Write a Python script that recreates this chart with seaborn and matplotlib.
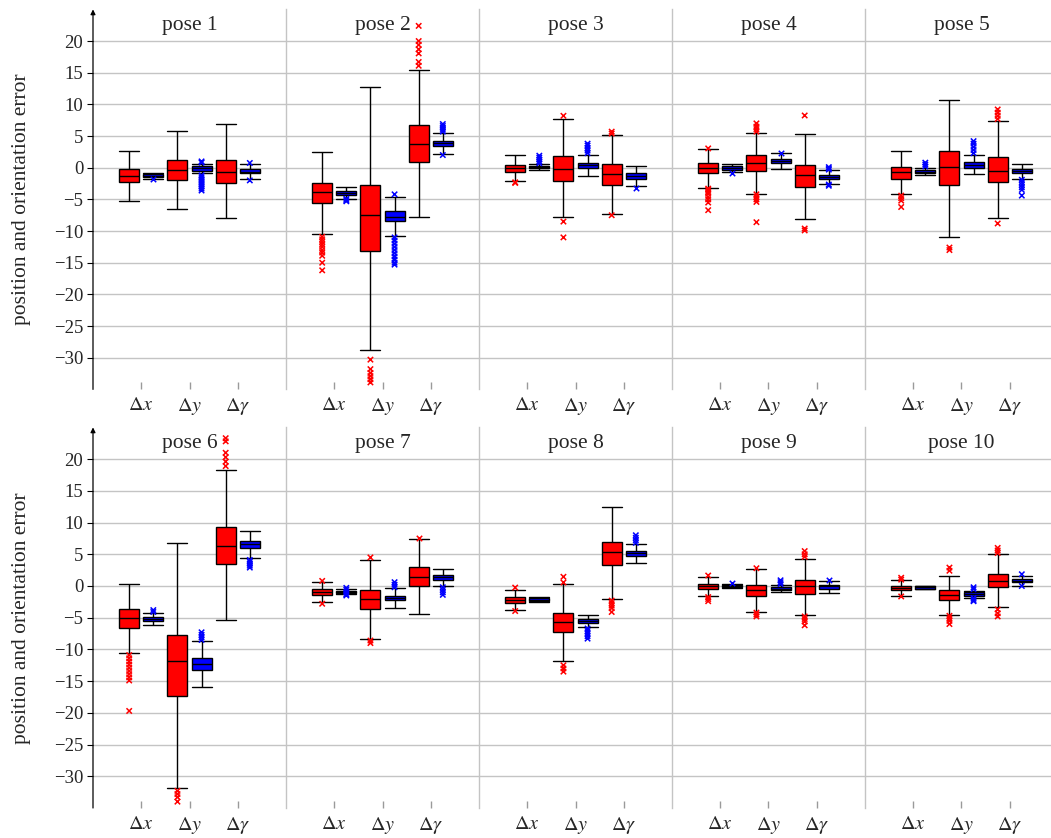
import pandas as pd
import seaborn as sns
import matplotlib.pyplot as plt

# ---------------------------------------------------------------------------
# Box summaries per pose: one tuple per component (Δx, Δy, Δγ),
# each (lower whisker, Q1, median, Q3, upper whisker)
# ---------------------------------------------------------------------------
P1_RED = [(-5.3, -2.3, -1.3, -0.25, 2.7), (-6.5, -1.95, -0.4, 1.15, 5.8), (-8.0, -2.35, -0.6, 1.3, 6.9)]
P1_BLUE = [(-1.7, -1.5, -1.25, -1.0, -0.8), (-0.9, -0.5, -0.1, 0.3, 0.6), (-1.85, -0.9, -0.6, -0.2, 0.55)]
P1_RED_OUT = [[], [], []]
P1_BLUE_OUT = [[-1.8], [1.0, 0.8, -1.2, -1.5, -1.8, -2.1, -2.4, -2.7, -3.0, -3.3, -3.6], [0.75, -2.0]]

P2_RED = [(-10.5, -5.6, -3.9, -2.4, 2.5), (-28.8, -13.15, -7.4, -2.8, 12.8), (-7.75, 0.95, 3.7, 6.8, 15.5)]
P2_BLUE = [(-5.0, -4.25, -3.95, -3.75, -3.0), (-10.75, -8.4, -7.75, -6.85, -4.6), (2.15, 3.45, 3.9, 4.3, 5.55)]
P2_RED_OUT = [[-10.9, -11.3, -11.7, -12.1, -12.5, -13.0, -13.4, -13.9, -15.0, -16.2],
              [-30.3, -31.8, -32.4, -32.9, -33.4, -33.9],
              [16.1, 16.7, 18.05, 18.7, 19.4, 20.0, 22.4]]
P2_BLUE_OUT = [[-4.9, -5.1, -5.3],
               [-4.2, -11.0, -11.5, -12.0, -12.5, -13.0, -13.5, -14.0, -14.5, -15.0, -15.3],
               [5.7, 6.0, 6.3, 6.6, 6.9, 2.0]]

P3_RED = [(-2.15, -0.6, -0.05, 0.4, 1.95), (-7.85, -2.05, -0.15, 1.8, 7.65), (-7.35, -2.65, -1.05, 0.55, 5.2)]
P3_BLUE = [(-0.35, -0.1, 0.15, 0.35, 0.6), (-1.25, 0.0, 0.4, 0.8, 2.0), (-2.95, -1.75, -1.25, -0.9, 0.3)]
P3_RED_OUT = [[-2.3, -2.4], [8.2, -8.5, -11.0], [5.4, 5.7, -7.5]]
P3_BLUE_OUT = [[0.7, 1.0, 1.3, 1.6, 1.9], [2.3, 2.7, 3.1, 3.5, 3.8], [-3.25]]

P4_RED = [(-3.15, -0.9, -0.05, 0.7, 2.95), (-4.1, -0.55, 0.75, 1.95, 5.55), (-8.05, -3.0, -1.15, 0.4, 5.4)]
P4_BLUE = [(-0.75, -0.3, 0.0, 0.25, 0.65), (-0.25, 0.7, 1.0, 1.35, 2.25), (-2.55, -1.8, -1.4, -1.1, -0.4)]
P4_RED_OUT = [[3.05, -3.3, -3.5, -3.8, -4.1, -4.6, -5.0, -5.5, -6.7],
              [5.7, 6.1, 6.5, 7.0, -4.2, -4.6, -5.0, -5.4, -8.6],
              [8.25, -9.6, -9.9]]
P4_BLUE_OUT = [[-0.8], [2.3], [-0.1, 0.1, -0.3, -2.65, -2.85]]

P5_RED = [(-4.2, -1.7, -0.75, 0.05, 2.65), (-10.9, -2.8, 0.1, 2.65, 10.75), (-8.0, -2.2, -0.45, 1.7, 7.4)]
P5_BLUE = [(-1.15, -0.8, -0.6, -0.35, 0.0), (-1.05, 0.0, 0.4, 0.85, 2.0), (-1.7, -0.8, -0.45, -0.15, 0.65)]
P5_RED_OUT = [[-4.4, -4.8, -5.2, -6.2], [-12.6, -13.0], [7.7, 8.2, 8.7, 9.2, -8.8]]
P5_BLUE_OUT = [[0.2, 0.5, 0.8], [2.3, 2.8, 3.3, 3.8, 4.2], [-1.9, -2.3, -2.7, -3.1, -3.5, -4.4]]

P6_RED = [(-10.6, -6.55, -5.0, -3.7, 0.35), (-31.9, -17.35, -11.85, -7.75, 6.85), (-5.4, 3.4, 6.25, 9.35, 18.25)]
P6_BLUE = [(-6.1, -5.45, -5.15, -4.85, -4.2), (-15.9, -13.2, -12.3, -11.3, -8.65), (4.35, 5.95, 6.6, 7.05, 8.7)]
P6_RED_OUT = [[-10.9, -11.4, -11.9, -12.4, -12.9, -13.4, -13.9, -14.4, -14.9, -19.7],
              [-32.3, -32.8, -33.3, -34.0],
              [18.9, 19.6, 20.3, 21.0, 22.8, 23.3]]
P6_BLUE_OUT = [[-3.8, -4.1], [-7.3, -7.7, -8.1, -8.5], [4.1, 3.8, 3.5, 3.2, 2.9]]

P7_RED = [(-2.6, -1.35, -0.95, -0.55, 0.7), (-8.35, -3.7, -2.1, -0.65, 4.05), (-4.45, -0.05, 1.45, 2.95, 7.35)]
P7_BLUE = [(-1.3, -1.15, -0.95, -0.75, -0.55), (-3.4, -2.25, -1.9, -1.55, -0.35), (-0.05, 0.95, 1.35, 1.75, 2.75)]
P7_RED_OUT = [[0.8, -2.8], [4.5, -8.6, -9.0], [7.6]]
P7_BLUE_OUT = [[-0.3, -0.6, -1.0, -1.3, -1.5], [0.6, 0.2, -0.2], [-0.2, -0.6, -1.0, -1.4]]

P8_RED = [(-3.85, -2.65, -2.2, -1.8, -0.6), (-11.8, -7.3, -5.6, -4.25, 0.25), (-2.1, 3.3, 5.3, 7.0, 12.45)]
P8_BLUE = [(-2.55, -2.4, -2.15, -1.9, -1.75), (-6.45, -5.85, -5.45, -5.2, -4.6), (3.7, 4.8, 5.15, 5.55, 6.6)]
P8_RED_OUT = [[-0.25, -3.95], [1.45, 0.55, -12.5, -13.0, -13.5], [-2.3, -2.7, -3.1, -3.5, -4.1]]
P8_BLUE_OUT = [[], [-6.7, -7.1, -7.5, -7.9, -8.3], [6.8, 7.2, 7.6, 8.0]]

P9_RED = [(-1.6, -0.45, -0.05, 0.3, 1.4), (-4.1, -1.6, -0.65, 0.1, 2.6), (-4.65, -1.25, 0.0, 0.9, 4.3)]
P9_BLUE = [(-0.25, -0.15, 0.05, 0.2, 0.25), (-1.0, -0.7, -0.4, -0.15, 0.15), (-1.05, -0.4, -0.05, 0.2, 0.75)]
P9_RED_OUT = [[1.65, -1.75, -2.05, -2.4], [2.8, -4.2, -4.5, -4.8], [4.6, 5.0, 5.5, -4.8, -5.2, -5.6, -6.2]]
P9_BLUE_OUT = [[0.5], [0.3, 0.6, 0.9], [0.9]]

P10_RED = [(-1.55, -0.65, -0.25, 0.05, 0.9), (-4.6, -2.25, -1.4, -0.65, 1.65), (-3.3, -0.2, 0.85, 1.9, 5.0)]
P10_BLUE = [(-0.45, -0.4, -0.2, -0.05, 0.0), (-1.85, -1.55, -1.25, -1.0, -0.75), (0.05, 0.6, 0.85, 1.05, 1.6)]
P10_RED_OUT = [[1.0, 1.3, -1.65], [2.4, 2.9, -4.7, -5.1, -5.5, -6.0], [5.2, 5.6, 6.0, -3.7, -4.3, -4.8]]
P10_BLUE_OUT = [[], [-0.2, -0.5, -1.9, -2.2, -2.4], [1.85, 0.0]]

POSE_TITLES = [f"pose {i}" for i in range(1, 11)]
COMPONENT_LABELS = [r"$\Delta x$", r"$\Delta y$", r"$\Delta\gamma$"]
Y_TICKS = [20, 15, 10, 5, 0, -5, -10, -15, -20, -25, -30]

POSES = [
    (P1_RED, P1_BLUE, P1_RED_OUT, P1_BLUE_OUT),
    (P2_RED, P2_BLUE, P2_RED_OUT, P2_BLUE_OUT),
    (P3_RED, P3_BLUE, P3_RED_OUT, P3_BLUE_OUT),
    (P4_RED, P4_BLUE, P4_RED_OUT, P4_BLUE_OUT),
    (P5_RED, P5_BLUE, P5_RED_OUT, P5_BLUE_OUT),
    (P6_RED, P6_BLUE, P6_RED_OUT, P6_BLUE_OUT),
    (P7_RED, P7_BLUE, P7_RED_OUT, P7_BLUE_OUT),
    (P8_RED, P8_BLUE, P8_RED_OUT, P8_BLUE_OUT),
    (P9_RED, P9_BLUE, P9_RED_OUT, P9_BLUE_OUT),
    (P10_RED, P10_BLUE, P10_RED_OUT, P10_BLUE_OUT),
]

PALETTE = {"red": "#ff0000", "blue": "#0000ff"}
SERIES = ["red", "blue"]
# slot order along each panel: Δx red, Δx blue, Δy red, Δy blue, Δγ red, Δγ blue
SLOTS = [f"{c}-{s}" for c in range(3) for s in SERIES]

# ---------------------------------------------------------------------------
# Long-form tables
# ---------------------------------------------------------------------------
box_rows, out_rows = [], []
for p, (red, blue, red_out, blue_out) in enumerate(POSES):
    for s, stats, outs in (("red", red, red_out), ("blue", blue, blue_out)):
        for c in range(3):
            slot = f"{c}-{s}"
            for v in stats[c]:
                box_rows.append({"pose": p, "slot": slot, "series": s, "value": v})
            for v in outs[c]:
                out_rows.append({"pose": p, "slot": slot, "series": s, "value": v})
boxes = pd.DataFrame(box_rows)
outliers = pd.DataFrame(out_rows)

# ---------------------------------------------------------------------------
# Styling
# ---------------------------------------------------------------------------
sns.set_theme(style="white")
plt.rcParams["font.family"] = ["Liberation Serif", "DejaVu Serif"]
plt.rcParams["mathtext.fontset"] = "stix"
plt.rcParams["axes.unicode_minus"] = True

GRID = "#c4c4c4"
W, H = 1051, 838
fig = plt.figure(figsize=(W / 100, H / 100), dpi=100)

panel_left = 93 / W
panel_w = 193 / W
row_px = [(389.4, 9.4), (808.0, 427.4)]  # (bottom, top) in pixels from the top edge

for p in range(10):
    r, j = divmod(p, 5)
    bot, top = row_px[r]
    ax = fig.add_axes([panel_left + j * panel_w, (H - bot) / H, panel_w, (bot - top) / H])
    ax.patch.set_alpha(0)

    sns.boxplot(
        data=boxes[boxes["pose"] == p], x="slot", y="value", hue="series",
        order=SLOTS, hue_order=SERIES, palette=PALETTE, dodge=False,
        width=0.83, whis=(0, 100), showfliers=False, saturation=1,
        linecolor="black", linewidth=1.0, legend=False, ax=ax,
        capwidths=0.83,
    )
    sub_out = outliers[outliers["pose"] == p]
    sns.stripplot(
        data=sub_out, x="slot", y="value", hue="series",
        order=SLOTS, hue_order=SERIES, palette=PALETTE, dodge=False,
        jitter=False, marker="x", size=3.9, linewidth=1.1, legend=False, ax=ax,
    )

    ax.set_xlim(-1.5, 6.5)
    ax.set_ylim(-35, 25)
    ax.set_xlabel("")
    ax.set_ylabel("")
    ax.set_xticks([0.5, 2.5, 4.5])
    ax.set_xticklabels(COMPONENT_LABELS)
    ax.tick_params(axis="x", direction="in", length=5, width=1, color="#9a9a9a",
                   pad=5, labelsize=14.5, bottom=True)
    ax.set_yticks(Y_TICKS)
    ax.yaxis.grid(True, color=GRID, lw=1.0)
    ax.xaxis.grid(False)
    ax.set_axisbelow(True)

    for side in ("top", "bottom", "left"):
        ax.spines[side].set_visible(False)
    ax.spines["right"].set_color(GRID)
    ax.spines["right"].set_linewidth(1.0)
    ax.spines["right"].set_zorder(0.5)

    if j == 0:
        ax.tick_params(axis="y", direction="out", length=4, width=0.8, color="black",
                       labelsize=13.5, pad=3, left=True)
        ax.annotate("", xy=(0, 1.0), xytext=(0, 0), xycoords="axes fraction",
                    arrowprops=dict(arrowstyle="-|>", lw=0.9, color="black",
                                    mutation_scale=7, shrinkA=0, shrinkB=0))
    else:
        ax.tick_params(axis="y", length=0, labelleft=False)

    ax.text(0.5, 1 - 16 / 380, POSE_TITLES[p], transform=ax.transAxes,
            ha="center", va="center", fontsize=15.5)

for bot, top in row_px:
    yc = 1 - (bot + top) / 2 / H
    fig.text(22 / W, yc, "position and orientation error", rotation=90,
             ha="center", va="center", fontsize=15.5)

fig.savefig("out.png", dpi=100)
